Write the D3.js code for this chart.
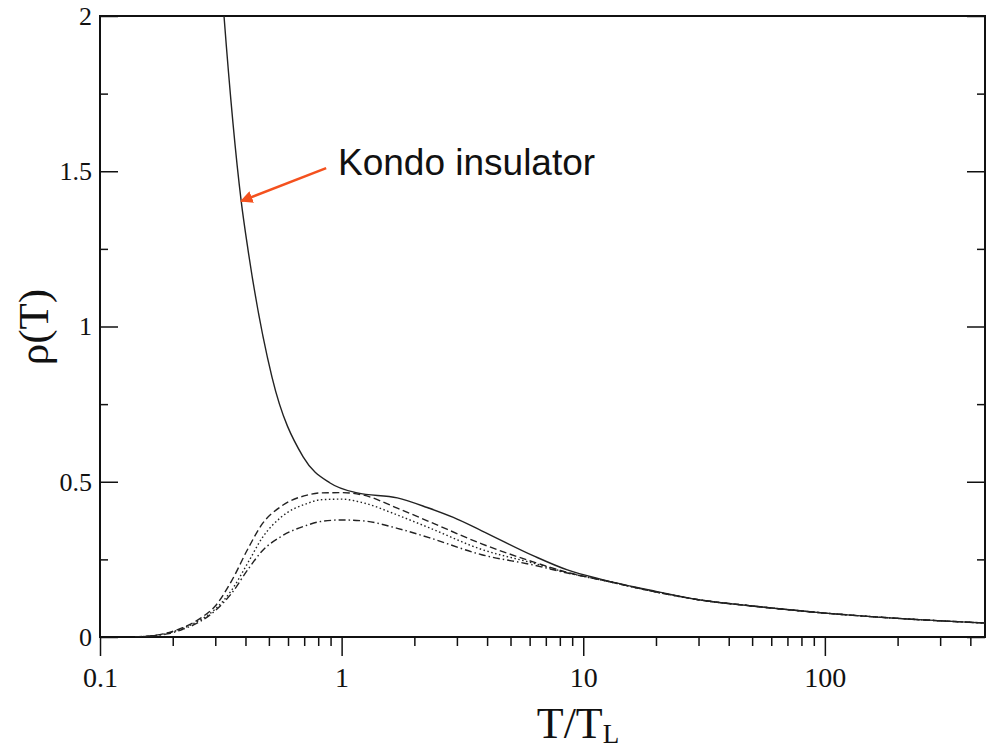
<!DOCTYPE html>
<html>
<head>
<meta charset="utf-8">
<script src="https://cdn.jsdelivr.net/npm/d3@7"></script>
<style>
  body { margin: 0; background: #fff; }
  svg text { font-family: "Liberation Serif", "DejaVu Serif", serif; fill: #111; }
</style>
</head>
<body>
<div id="chart"></div>
<script>
// temperature grid (T/T_L) shared by the three metallic curves
var temps = [0.14, 0.19, 0.22, 0.26, 0.3, 0.35, 0.41, 0.47, 0.56, 0.72, 0.82, 1.0, 1.23, 1.7, 2.3, 3.8, 6.2, 8.6, 12, 20, 30, 50, 100, 200, 460];
var rhoDashed  = [0, 0.013, 0.03, 0.06, 0.10, 0.18, 0.285, 0.365, 0.42, 0.457, 0.464, 0.465, 0.457, 0.415, 0.372, 0.30, 0.242, 0.208, 0.183, 0.145, 0.12, 0.10, 0.077, 0.06, 0.045];
var rhoDotted  = [0, 0.012, 0.028, 0.055, 0.09, 0.15, 0.24, 0.32, 0.385, 0.43, 0.442, 0.444, 0.432, 0.393, 0.352, 0.282, 0.238, 0.207, 0.183, 0.145, 0.12, 0.10, 0.077, 0.06, 0.045];
var rhoDashDot = [0, 0.01, 0.025, 0.05, 0.085, 0.14, 0.218, 0.278, 0.323, 0.36, 0.372, 0.377, 0.374, 0.35, 0.32, 0.265, 0.232, 0.206, 0.183, 0.145, 0.12, 0.10, 0.077, 0.06, 0.045];

// Kondo insulator curve
var tempsIns = [0.3, 0.326, 0.384, 0.41, 0.515, 0.693, 0.896, 1.16, 1.7, 2.26, 2.9, 3.8, 6.2, 8.6, 12, 20, 30, 50, 100, 200, 460];
var rhoIns   = [2.4, 2.0, 1.404, 1.246, 0.837, 0.58, 0.496, 0.464, 0.448, 0.417, 0.385, 0.342, 0.262, 0.216, 0.185, 0.147, 0.12, 0.10, 0.077, 0.06, 0.045];

var xMajor = [0.1, 1, 10, 100];
var xLabels = ["0.1", "1", "10", "100"];
var yMajor = [0, 0.5, 1, 1.5, 2];
var yLabels = ["0", "0.5", "1", "1.5", "2"];
var yMinor = [0.25, 0.75, 1.25, 1.75];

// annotation: arrow from label to curve, in data units
var arrowFrom = [0.863, 1.51];
var arrowTo = [0.384, 1.404];

var width = 986, height = 750;
var margin = {top: 16, right: 1, bottom: 113, left: 100};
var w = width - margin.left - margin.right;
var h = height - margin.top - margin.bottom;

var x = d3.scaleLog().domain([0.1, 460]).range([0, w]);
var y = d3.scaleLinear().domain([0, 2]).range([h, 0]);

var xMinor = [];
[0.1, 1, 10, 100].forEach(function(d){
    for (var k = 2; k <= 9; k++) {
        if (d * k <= 460) xMinor.push(d * k);
    }
});

var svg = d3.select("#chart").append("svg")
    .attr("width", width)
    .attr("height", height);

svg.append("defs").append("clipPath").attr("id", "clip")
    .append("rect").attr("width", w).attr("height", h);

svg.select("defs").append("marker")
    .attr("id", "head")
    .attr("viewBox", "0 0 10 10")
    .attr("refX", 9).attr("refY", 5)
    .attr("markerWidth", 5).attr("markerHeight", 5)
    .attr("orient", "auto")
    .append("path").attr("d", "M0,0 L10,5 L0,10 z").attr("fill", "#f4511e");

var g = svg.append("g").attr("transform", "translate(" + margin.left + "," + margin.top + ")");

// axes
var xMinorAxis = g.append("g").attr("transform", "translate(0," + h + ")")
    .call(d3.axisBottom(x).tickValues(xMinor).tickSize(9).tickFormat(""));
var xAxis = g.append("g").attr("transform", "translate(0," + h + ")")
    .call(d3.axisBottom(x).tickValues(xMajor).tickSize(19).tickPadding(11)
        .tickFormat(function(d, i){ return xLabels[i]; }));

var yMinorAxis = g.append("g").call(d3.axisLeft(y).tickValues(yMinor).tickSize(-8).tickFormat(""));
var yAxis = g.append("g").call(d3.axisLeft(y).tickValues(yMajor).tickSize(-18).tickPadding(8)
    .tickFormat(function(d, i){ return yLabels[i]; }));

var yRightMinor = g.append("g").attr("transform", "translate(" + w + ",0)")
    .call(d3.axisRight(y).tickValues(yMinor).tickSize(-8).tickFormat(""));
var yRight = g.append("g").attr("transform", "translate(" + w + ",0)")
    .call(d3.axisRight(y).tickValues(yMajor).tickSize(-18).tickFormat(""));

g.selectAll(".domain").remove();
g.selectAll(".tick line").attr("stroke", "#111").attr("stroke-width", 1.5);
xAxis.selectAll("text").attr("font-size", 28);
yAxis.selectAll("text").attr("font-size", 26);

// frame
g.append("rect")
    .attr("width", w).attr("height", h)
    .attr("fill", "none").attr("stroke", "#111").attr("stroke-width", 2);

// curves
var line = d3.line()
    .x(function(d){ return x(d[0]); })
    .y(function(d){ return y(d[1]); })
    .curve(d3.curveMonotoneX);

var series = [
    {data: d3.zip(temps, rhoDashed), dash: "7,3.5"},
    {data: d3.zip(temps, rhoDotted), dash: "1.5,2.5"},
    {data: d3.zip(temps, rhoDashDot), dash: "7,3,1.5,3"},
    {data: d3.zip(tempsIns, rhoIns), dash: null}
];

g.append("g").attr("clip-path", "url(#clip)")
    .selectAll(".curve")
    .data(series)
    .enter()
    .append("path")
    .attr("class", "curve")
    .attr("d", function(d){ return line(d.data); })
    .attr("fill", "none")
    .attr("stroke", "#222")
    .attr("stroke-width", 1.4)
    .attr("stroke-dasharray", function(d){ return d.dash; });

// annotation
g.append("line")
    .attr("x1", x(arrowFrom[0])).attr("y1", y(arrowFrom[1]))
    .attr("x2", x(arrowTo[0])).attr("y2", y(arrowTo[1]))
    .attr("stroke", "#f4511e").attr("stroke-width", 2.5)
    .attr("marker-end", "url(#head)");

svg.append("text")
    .attr("x", 338).attr("y", 175)
    .style("font-family", "'Liberation Sans', Arial, sans-serif")
    .attr("font-size", 37)
    .text("Kondo insulator");

// axis titles
svg.append("text")
    .attr("transform", "translate(48,327) rotate(-90)")
    .attr("text-anchor", "middle")
    .attr("font-size", 43)
    .text("ρ(T)");

var xt = svg.append("text")
    .attr("x", 578).attr("y", 738)
    .attr("text-anchor", "middle")
    .attr("font-size", 44);
xt.append("tspan").text("T/T");
xt.append("tspan").attr("font-size", 27).attr("dy", 5).text("L");
</script>
</body>
</html>
